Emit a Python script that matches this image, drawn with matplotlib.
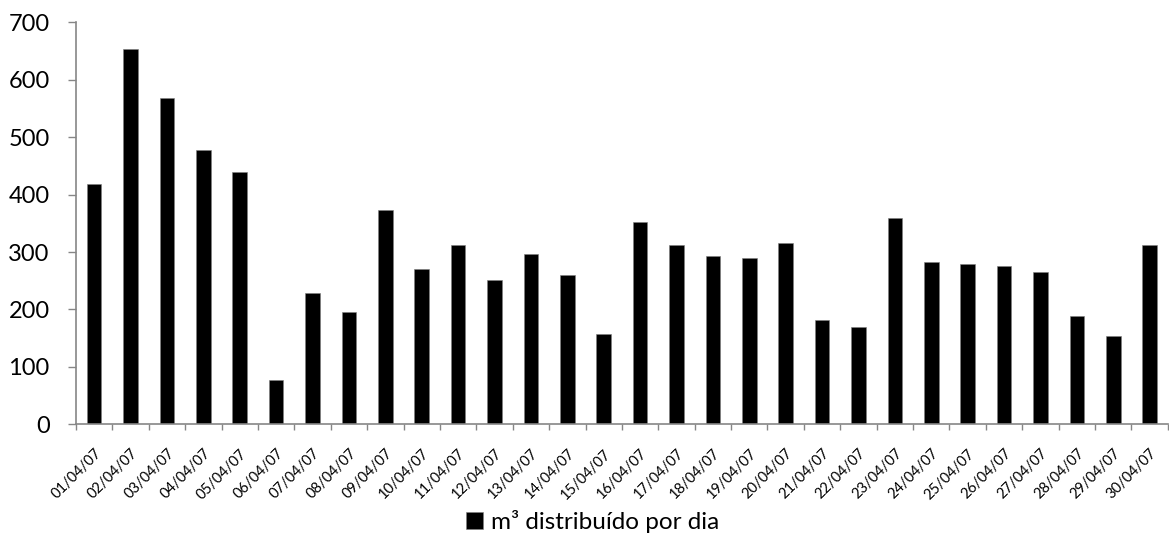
import numpy as np
import matplotlib
matplotlib.use("Agg")
import matplotlib.pyplot as plt

# datos: m3 distribuidos por dia (abril 2007)
dias = ["%02d/04/07" % d for d in range(1, 31)]
m3 = [418, 653, 569, 478, 439, 77, 229, 195, 373, 270,
      312, 251, 296, 260, 158, 353, 312, 293, 289, 316,
      182, 169, 360, 282, 279, 275, 265, 188, 153, 312]
yticks = [0, 100, 200, 300, 400, 500, 600, 700]
serie = "m³ distribuído por dia"

plt.rcParams['font.family'] = ['Lato', 'DejaVu Sans']
gris = "#868686"

fig = plt.figure(figsize=(11.69, 5.36), dpi=100)
ax = fig.add_axes([0.065, 0.2084, 0.934, 0.7497])

x = np.arange(len(dias))
ax.bar(x, m3, width=0.4, color="black", edgecolor="#7f7f7f", linewidth=0.4, label=serie)

ax.set_xlim(-0.5, len(dias) - 0.5)
ax.set_ylim(0, 700)
ax.set_yticks(yticks)
ax.tick_params(axis='y', direction='out', length=6, width=1, color=gris,
               labelsize=17, pad=13)

# etiquetas en el centro, marcas entre categorias
ax.set_xticks(x)
ax.set_xticklabels(dias, rotation=45, ha='right', rotation_mode='anchor', fontsize=10.5)
ax.tick_params(axis='x', which='major', length=0, pad=16)
ax.set_xticks(np.arange(-0.5, len(dias)), minor=True)
ax.tick_params(axis='x', which='minor', direction='out', length=4, width=1, color=gris)

for s in ["top", "right"]:
    ax.spines[s].set_visible(False)
for s in ["left", "bottom"]:
    ax.spines[s].set_color(gris)
    ax.spines[s].set_linewidth(1.2)

fig.legend(loc='lower center', bbox_to_anchor=(0.507, -0.035), frameon=False,
           fontsize=17.5, handlelength=0.7, handleheight=0.7, handletextpad=0.3)

fig.savefig("out.png", dpi=100)
